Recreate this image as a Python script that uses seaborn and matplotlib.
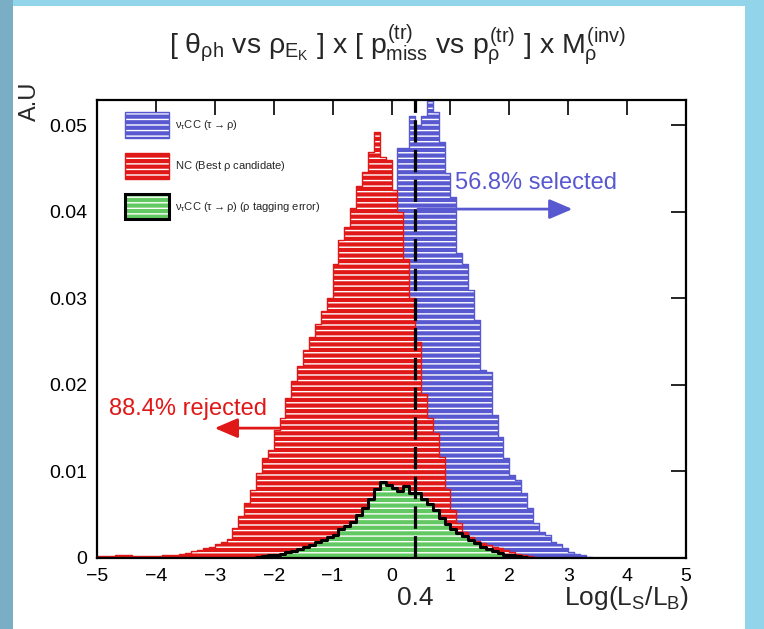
import numpy as np
import pandas as pd
import matplotlib
matplotlib.use("Agg")
import matplotlib.pyplot as plt
import seaborn as sns
from matplotlib.patches import Patch, Rectangle
from matplotlib.legend_handler import HandlerTuple
from matplotlib.ticker import FuncFormatter, MultipleLocator

# -----------------------------------------------------
# data: 100 bins of 0.1 in Log(Ls/Lb)
# -----------------------------------------------------
bin_width = 0.1
bin_centers = np.round(np.arange(-4.95, 5.0, bin_width), 2)

# nu_tau CC (tau -> rho)
signal_cc = [
    0, 0, 0, 0, 0, 0, 0, 0, 0, 0,
    0, 0, 0, 0, 0, 0, 0, 0, 0, 0,
    0, 0, 0, 0, 0, 0.0002, 0.0003, 0.0004, 0.0005, 0.0007,
    0.0009, 0.0011, 0.0014, 0.0018, 0.0022, 0.0027, 0.0033, 0.0040, 0.0050, 0.0062,
    0.0076, 0.0092, 0.0112, 0.0135, 0.0165, 0.0200, 0.0240, 0.0290, 0.0340, 0.0390,
    0.0425, 0.0473, 0.0473, 0.0510, 0.0500, 0.0510, 0.0528, 0.0515, 0.0480, 0.0445,
    0.0417, 0.0352, 0.0340, 0.0310, 0.0275, 0.0217, 0.0215, 0.0165, 0.0140, 0.0115,
    0.0096, 0.0090, 0.0075, 0.0058, 0.0040, 0.0030, 0.0027, 0.0019, 0.0016, 0.0012,
    0.0007, 0.0005, 0.0003, 0.0001, 0, 0, 0, 0, 0, 0,
    0, 0, 0, 0, 0, 0, 0, 0, 0, 0,
]

# NC (best rho candidate)
nc_best = [
    0.0002, 0.0002, 0.0002, 0.0003, 0.0004, 0.0003, 0.0002, 0.0002, 0.0002, 0.0002,
    0.0002, 0.0003, 0.0003, 0.0004, 0.0005, 0.0006, 0.0008, 0.0009, 0.0011, 0.0013,
    0.0016, 0.0019, 0.0022, 0.0035, 0.0048, 0.0063, 0.0079, 0.0098, 0.0115, 0.0125,
    0.0148, 0.0162, 0.0185, 0.0205, 0.0222, 0.0240, 0.0255, 0.0270, 0.0285, 0.0300,
    0.0340, 0.0367, 0.0382, 0.0404, 0.0430, 0.0446, 0.0469, 0.0492, 0.0463, 0.0460,
    0.0425, 0.0400, 0.0345, 0.0300, 0.0250, 0.0190, 0.0162, 0.0144, 0.0117, 0.0080,
    0.0056, 0.0041, 0.0030, 0.0024, 0.0020, 0.0017, 0.0015, 0.0013, 0.0011, 0.0009,
    0.0007, 0.0005, 0.0003, 0.0002, 0, 0, 0, 0, 0, 0,
    0, 0, 0, 0, 0, 0, 0, 0, 0, 0,
    0, 0, 0, 0, 0, 0, 0, 0, 0, 0,
]

# nu_tau CC (tau -> rho) with rho tagging error
cc_tag_error = [
    0, 0, 0, 0, 0, 0, 0, 0, 0, 0,
    0, 0, 0, 0, 0, 0, 0, 0, 0, 0,
    0, 0, 0, 0, 0, 0, 0, 0.0001, 0.0002, 0.0003,
    0.0004, 0.0005, 0.0007, 0.0008, 0.0010, 0.0013, 0.0015, 0.0018, 0.0021, 0.0024,
    0.0027, 0.0033, 0.0037, 0.0042, 0.0050, 0.0058, 0.0068, 0.0080, 0.0088, 0.0084,
    0.0081, 0.0077, 0.0083, 0.0075, 0.0075, 0.0068, 0.0062, 0.0055, 0.0046, 0.0039,
    0.0034, 0.0029, 0.0025, 0.0021, 0.0017, 0.0013, 0.0010, 0.0008, 0.0006, 0.0004,
    0.0003, 0.0002, 0.0001, 0, 0, 0, 0, 0, 0, 0,
    0, 0, 0, 0, 0, 0, 0, 0, 0, 0,
    0, 0, 0, 0, 0, 0, 0, 0, 0, 0,
]

cut_value = 0.4
selected_text = "56.8% selected"
rejected_text = "88.4% rejected"
legend_labels = [
    r"$\nu_\tau$CC ($\tau \rightarrow \rho$)",
    r"NC (Best $\rho$ candidate)",
    r"$\nu_\tau$CC ($\tau \rightarrow \rho$) ($\rho$ tagging error)",
]

BLUE = "#5858d0"
RED = "#e01818"
GREEN = "#62c862"

# -----------------------------------------------------
# style
# -----------------------------------------------------
sns.set_style("white")
plt.rcParams["font.family"] = ["Liberation Sans", "DejaVu Sans"]
plt.rcParams["mathtext.fontset"] = "custom"
plt.rcParams["mathtext.rm"] = "Liberation Sans"
plt.rcParams["mathtext.it"] = "Liberation Sans"
plt.rcParams["mathtext.bf"] = "Liberation Sans:bold"
plt.rcParams["hatch.linewidth"] = 1.0
plt.rcParams["hatch.color"] = "white"

fig = plt.figure(figsize=(7.64, 6.29), dpi=100)
fig.patch.set_facecolor("#92d4ea")
fig.add_artist(Rectangle((0, 0), 13 / 764, 1, transform=fig.transFigure,
                         facecolor="#7aaec4", edgecolor="none", zorder=-2))
fig.add_artist(Rectangle((13 / 764, 0), 732 / 764, 1 - 6 / 629,
                         transform=fig.transFigure, facecolor="white",
                         edgecolor="none", zorder=-1))

ax = fig.add_axes([97 / 764, 1 - 558 / 629, 589 / 764, 458 / 629])
ax.set_facecolor("white")


def draw_hist(values, fill_color, line_color, lw, z):
    df = pd.DataFrame({"x": bin_centers, "w": values})
    sns.histplot(data=df, x="x", weights="w", binwidth=bin_width, binrange=(-5, 5),
                 element="step", fill=True, color=fill_color, alpha=1,
                 edgecolor="white", hatch="---", linewidth=0, zorder=z, ax=ax)
    sns.histplot(data=df, x="x", weights="w", binwidth=bin_width, binrange=(-5, 5),
                 element="step", fill=False, color=line_color, linewidth=lw,
                 zorder=z + 0.05, ax=ax)


draw_hist(signal_cc, BLUE, BLUE, 1.0, 1.0)
draw_hist(nc_best, RED, RED, 1.0, 1.2)
draw_hist(cc_tag_error, GREEN, "black", 2.2, 1.4)

# cut line
ax.axvline(cut_value, color="black", lw=2.3, ls=(0, (7, 2.3)), zorder=5)

# selected / rejected arrows
ax.annotate("", xy=(3.12, 0.0403), xytext=(cut_value, 0.0403),
            arrowprops=dict(arrowstyle="-|>,head_length=1.4,head_width=0.6",
                            color=BLUE, lw=2), zorder=6)
ax.text(1.08, 0.0433, selected_text, color=BLUE, fontsize=17,
        ha="left", va="center", zorder=6)
ax.annotate("", xy=(-3.05, 0.0150), xytext=(cut_value, 0.0150),
            arrowprops=dict(arrowstyle="-|>,head_length=1.4,head_width=0.6",
                            color=RED, lw=2), zorder=1.1)
ax.text(-4.8, 0.0172, rejected_text, color=RED, fontsize=17,
        ha="left", va="center", zorder=6)

# axes
ax.set_xlim(-5, 5)
ax.set_ylim(0, 0.0529)
ax.xaxis.set_major_locator(MultipleLocator(1))
ax.yaxis.set_major_locator(MultipleLocator(0.01))
ax.yaxis.set_major_formatter(FuncFormatter(lambda v, p: "0" if abs(v) < 1e-9 else f"{v:.2f}"))
ax.tick_params(direction="in", length=11, width=1.2, top=True, right=True,
               labelsize=14, pad=7, colors="black")
for s in ax.spines.values():
    s.set_linewidth(1.6)
    s.set_color("black")
ax.set_xlabel("")
ax.set_ylabel("")

ax.text(1.005, -0.088, r"Log(L$_S$/L$_B$)", transform=ax.transAxes,
        fontsize=19, ha="right", va="center")
ax.text(cut_value, -0.088, "0.4", transform=ax.get_xaxis_transform(),
        fontsize=19, ha="center", va="center")
ax.text(-0.114, 0.998, "A.U", transform=ax.transAxes, rotation=90,
        fontsize=17, ha="center", va="center")

fig.text(0.52, 0.928,
         r"[ $\theta_{\rho h}$ vs $\rho_{E_K}$ ] x [ $p_{miss}^{(tr)}$ vs $p_{\rho}^{(tr)}$ ] x $M_{\rho}^{(inv)}$",
         fontsize=20.5, ha="center", va="center")

# legend
handles = []
for fc, ec, lw in [(BLUE, BLUE, 1.0), (RED, RED, 1.0), (GREEN, "black", 2.2)]:
    handles.append((Patch(facecolor=fc, edgecolor="white", hatch="---", linewidth=0),
                    Patch(facecolor="none", edgecolor=ec, linewidth=lw)))
ax.legend(handles, legend_labels, handler_map={tuple: HandlerTuple(ndivide=1)},
          loc="upper left", bbox_to_anchor=(0.048, 0.974), borderaxespad=0,
          borderpad=0, frameon=False, fontsize=8, handlelength=3.9,
          handleheight=3.2, labelspacing=1.35, handletextpad=0.6)

fig.savefig("out.png", dpi=100, facecolor=fig.get_facecolor())
